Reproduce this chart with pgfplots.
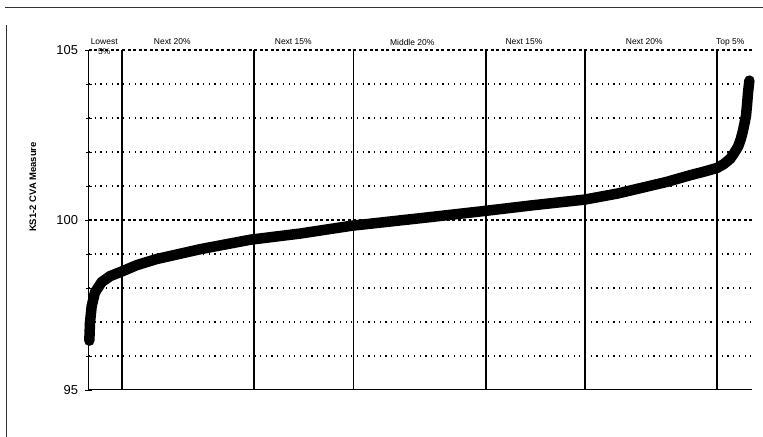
\documentclass[border=0pt]{standalone}
\usepackage{fontspec}
\setmainfont{Liberation Sans}
\usepackage{pgfplots}
\pgfplotsset{compat=1.18}
\begin{document}
\begin{tikzpicture}[x=1bp,y=1bp]
\path[use as bounding box] (-89,-47) rectangle (674,390);
% frame of the scanned page
\draw[black!80, line width=1bp] (-84,382) -- (674,382);
\draw[black!80, line width=1bp] (-82,-47) -- (-82,365);
\begin{axis}[
  at={(0,0)}, anchor=south west,
  scale only axis, width=663bp, height=340bp,
  xmin=0, xmax=100.3, ymin=95, ymax=105,
  axis x line*=bottom, axis y line*=left,
  axis line style={black, line width=1bp},
  clip=false,
  xtick={5,25,40,60,75,95}, xticklabels={},
  x tick style={draw=none},
  xmajorgrids,
  x grid style={black, line width=1.8bp},
  ytick={95,100,105}, minor ytick={96,97,98,99,101,102,103,104},
  yminorgrids,
  extra y ticks={100,105}, extra y tick labels={},
  extra y tick style={grid=major,
    major grid style={black, line width=1.6bp, dash pattern=on 3bp off 2.5bp}},
  minor y grid style={black, line width=1.1bp, dash pattern=on 1.2bp off 4.5bp},
  tick align=center, major tick length=7bp, minor tick length=6bp,
  y tick style={black, line width=0.8bp},
  yticklabel style={font=\fontsize{13}{14}\selectfont, xshift=-4bp},
  /pgf/number format/assume math mode=true,
  ylabel={\textbf{KS1-2 CVA Measure}},
  ylabel style={at={(axis description cs:-0.0845,0.597)}, anchor=center,
    font=\fontsize{9.5}{11}\selectfont},
]
\addplot[black, line width=10.5bp, line cap=round, line join=round] coordinates {
  (0.05,96.45) (0.15,96.98) (0.4,97.46) (0.9,97.87) (1.9,98.17)
  (3.2,98.35) (4.9,98.48) (7.2,98.67) (10.2,98.85) (16.8,99.14)
  (24.4,99.42) (31.9,99.6) (39.7,99.83) (50,100.05) (59.6,100.26)
  (67,100.43) (75,100.6) (80,100.78) (87.4,101.12) (91,101.32)
  (93,101.42) (95,101.53) (96,101.64) (97,101.8) (97.6,101.97)
  (98.2,102.16) (98.6,102.38) (98.9,102.6) (99.15,102.83) (99.4,103.08)
  (99.55,103.4) (99.7,103.75) (99.9,104.1)
};
\begin{scope}[every node/.style={font=\fontsize{8.5}{10}\selectfont}]
\node[align=center, yshift=3bp] at (axis cs:2.3,105) {Lowest\\5\%};
\node[yshift=8bp] at (axis cs:12.6,105) {Next 20\%};
\node[yshift=8bp] at (axis cs:30.9,105) {Next 15\%};
\node[yshift=8bp] at (axis cs:48.9,105) {Middle 20\%};
\node[yshift=8bp] at (axis cs:65.8,105) {Next 15\%};
\node[yshift=8bp] at (axis cs:84,105) {Next 20\%};
\node[yshift=8bp] at (axis cs:97,105) {Top 5\%};
\end{scope}
\end{axis}
\end{tikzpicture}
\end{document}
